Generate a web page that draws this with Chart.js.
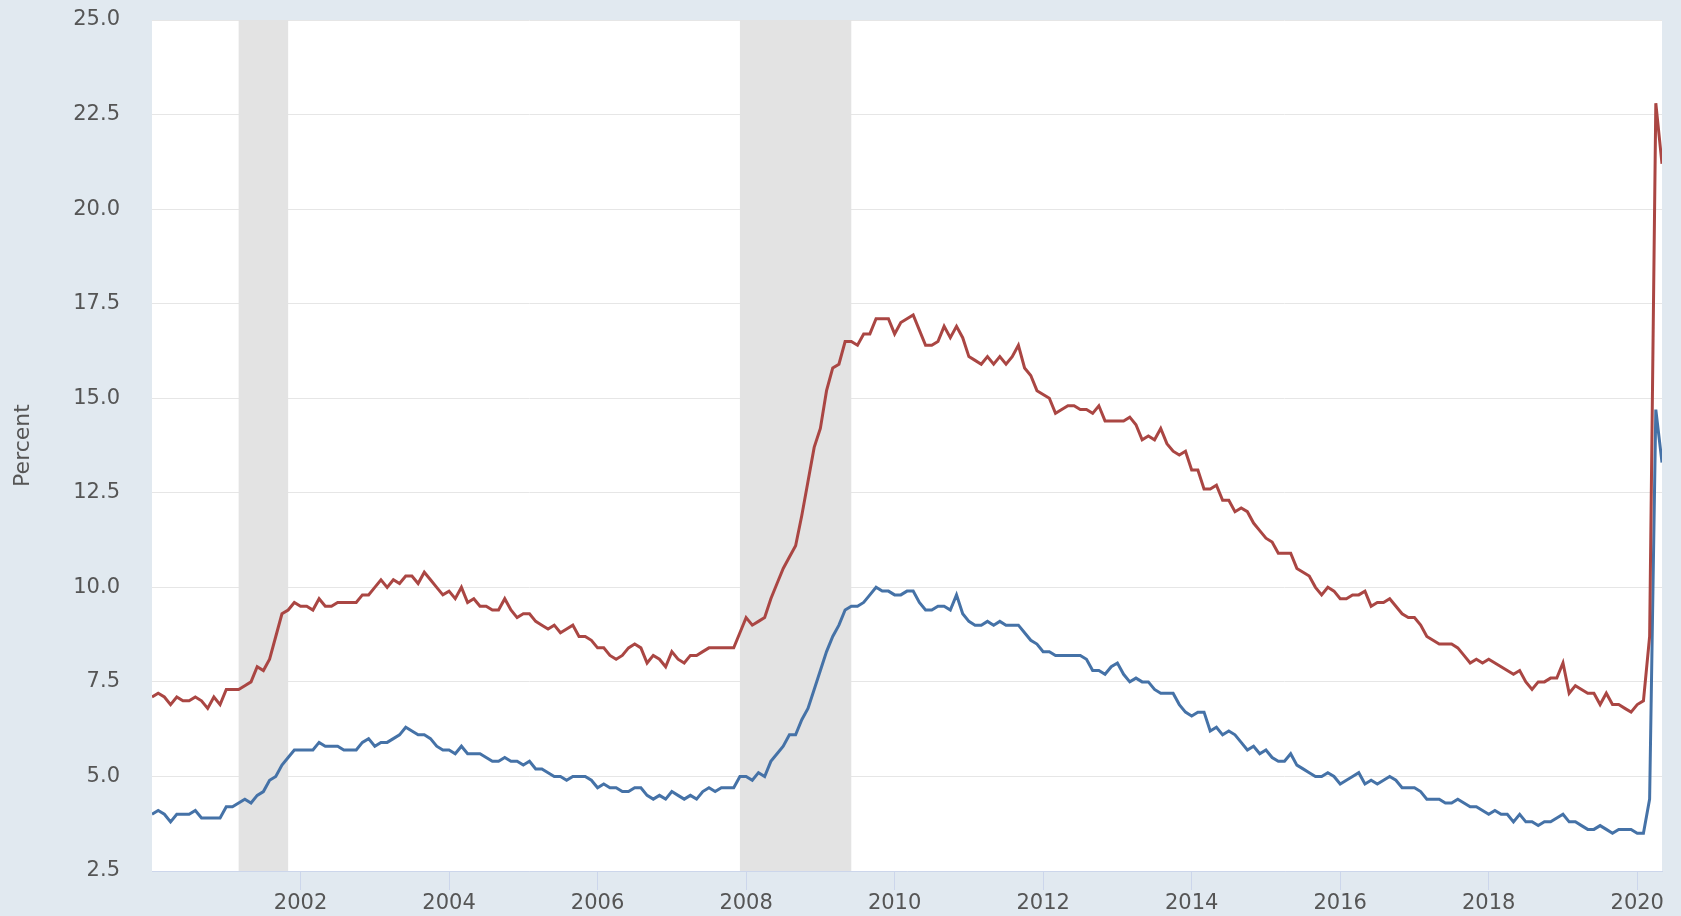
<!DOCTYPE html>
<html>
<head>
<meta charset="utf-8">
<script src="https://cdn.jsdelivr.net/npm/chart.js@4/dist/chart.umd.min.js"></script>
<style>
  html, body { margin: 0; padding: 0; background: #e1e9f0; }
  canvas { display: block; }
</style>
</head>
<body>
<canvas id="unrateChart" width="1681" height="916"></canvas>
<script>
// monthly, Jan 2000 - May 2020
const startYear = 2000;
const u3 = [
  4.0, 4.1, 4.0, 3.8, 4.0, 4.0, 4.0, 4.1, 3.9, 3.9, 3.9, 3.9,
  4.2, 4.2, 4.3, 4.4, 4.3, 4.5, 4.6, 4.9, 5.0, 5.3, 5.5, 5.7,
  5.7, 5.7, 5.7, 5.9, 5.8, 5.8, 5.8, 5.7, 5.7, 5.7, 5.9, 6.0,
  5.8, 5.9, 5.9, 6.0, 6.1, 6.3, 6.2, 6.1, 6.1, 6.0, 5.8, 5.7,
  5.7, 5.6, 5.8, 5.6, 5.6, 5.6, 5.5, 5.4, 5.4, 5.5, 5.4, 5.4,
  5.3, 5.4, 5.2, 5.2, 5.1, 5.0, 5.0, 4.9, 5.0, 5.0, 5.0, 4.9,
  4.7, 4.8, 4.7, 4.7, 4.6, 4.6, 4.7, 4.7, 4.5, 4.4, 4.5, 4.4,
  4.6, 4.5, 4.4, 4.5, 4.4, 4.6, 4.7, 4.6, 4.7, 4.7, 4.7, 5.0,
  5.0, 4.9, 5.1, 5.0, 5.4, 5.6, 5.8, 6.1, 6.1, 6.5, 6.8, 7.3,
  7.8, 8.3, 8.7, 9.0, 9.4, 9.5, 9.5, 9.6, 9.8, 10.0, 9.9, 9.9,
  9.8, 9.8, 9.9, 9.9, 9.6, 9.4, 9.4, 9.5, 9.5, 9.4, 9.8, 9.3,
  9.1, 9.0, 9.0, 9.1, 9.0, 9.1, 9.0, 9.0, 9.0, 8.8, 8.6, 8.5,
  8.3, 8.3, 8.2, 8.2, 8.2, 8.2, 8.2, 8.1, 7.8, 7.8, 7.7, 7.9,
  8.0, 7.7, 7.5, 7.6, 7.5, 7.5, 7.3, 7.2, 7.2, 7.2, 6.9, 6.7,
  6.6, 6.7, 6.7, 6.2, 6.3, 6.1, 6.2, 6.1, 5.9, 5.7, 5.8, 5.6,
  5.7, 5.5, 5.4, 5.4, 5.6, 5.3, 5.2, 5.1, 5.0, 5.0, 5.1, 5.0,
  4.8, 4.9, 5.0, 5.1, 4.8, 4.9, 4.8, 4.9, 5.0, 4.9, 4.7, 4.7,
  4.7, 4.6, 4.4, 4.4, 4.4, 4.3, 4.3, 4.4, 4.3, 4.2, 4.2, 4.1,
  4.0, 4.1, 4.0, 4.0, 3.8, 4.0, 3.8, 3.8, 3.7, 3.8, 3.8, 3.9,
  4.0, 3.8, 3.8, 3.7, 3.6, 3.6, 3.7, 3.6, 3.5, 3.6, 3.6, 3.6,
  3.5, 3.5, 4.4, 14.7, 13.3
];
const u6 = [
  7.1, 7.2, 7.1, 6.9, 7.1, 7.0, 7.0, 7.1, 7.0, 6.8, 7.1, 6.9,
  7.3, 7.3, 7.3, 7.4, 7.5, 7.9, 7.8, 8.1, 8.7, 9.3, 9.4, 9.6,
  9.5, 9.5, 9.4, 9.7, 9.5, 9.5, 9.6, 9.6, 9.6, 9.6, 9.8, 9.8,
  10.0, 10.2, 10.0, 10.2, 10.1, 10.3, 10.3, 10.1, 10.4, 10.2, 10.0, 9.8,
  9.9, 9.7, 10.0, 9.6, 9.7, 9.5, 9.5, 9.4, 9.4, 9.7, 9.4, 9.2,
  9.3, 9.3, 9.1, 9.0, 8.9, 9.0, 8.8, 8.9, 9.0, 8.7, 8.7, 8.6,
  8.4, 8.4, 8.2, 8.1, 8.2, 8.4, 8.5, 8.4, 8.0, 8.2, 8.1, 7.9,
  8.3, 8.1, 8.0, 8.2, 8.2, 8.3, 8.4, 8.4, 8.4, 8.4, 8.4, 8.8,
  9.2, 9.0, 9.1, 9.2, 9.7, 10.1, 10.5, 10.8, 11.1, 11.9, 12.8, 13.7,
  14.2, 15.2, 15.8, 15.9, 16.5, 16.5, 16.4, 16.7, 16.7, 17.1, 17.1, 17.1,
  16.7, 17.0, 17.1, 17.2, 16.8, 16.4, 16.4, 16.5, 16.9, 16.6, 16.9, 16.6,
  16.1, 16.0, 15.9, 16.1, 15.9, 16.1, 15.9, 16.1, 16.4, 15.8, 15.6, 15.2,
  15.1, 15.0, 14.6, 14.7, 14.8, 14.8, 14.7, 14.7, 14.6, 14.8, 14.4, 14.4,
  14.4, 14.4, 14.5, 14.3, 13.9, 14.0, 13.9, 14.2, 13.8, 13.6, 13.5, 13.6,
  13.1, 13.1, 12.6, 12.6, 12.7, 12.3, 12.3, 12.0, 12.1, 12.0, 11.7, 11.5,
  11.3, 11.2, 10.9, 10.9, 10.9, 10.5, 10.4, 10.3, 10.0, 9.8, 10.0, 9.9,
  9.7, 9.7, 9.8, 9.8, 9.9, 9.5, 9.6, 9.6, 9.7, 9.5, 9.3, 9.2,
  9.2, 9.0, 8.7, 8.6, 8.5, 8.5, 8.5, 8.4, 8.2, 8.0, 8.1, 8.0,
  8.1, 8.0, 7.9, 7.8, 7.7, 7.8, 7.5, 7.3, 7.5, 7.5, 7.6, 7.6,
  8.0, 7.2, 7.4, 7.3, 7.2, 7.2, 6.9, 7.2, 6.9, 6.9, 6.8, 6.7,
  6.9, 7.0, 8.7, 22.8, 21.2
];
// recession periods as [start month, end month] offsets from Jan 2000
const recessions = [[14, 22], [95, 113]];
const tickYears = [2002, 2004, 2006, 2008, 2010, 2012, 2014, 2016, 2018, 2020];

const toPoints = (arr) => arr.map((v, i) => ({ x: i, y: v }));

const recessionShading = {
  id: "recessionShading",
  beforeDraw(chart) {
    const { ctx, chartArea: a } = chart;
    ctx.save();
    ctx.fillStyle = "#ffffff";
    ctx.fillRect(a.left, a.top, a.right - a.left, a.bottom - a.top);
    ctx.restore();
  },
  beforeDatasetsDraw(chart) {
    const { ctx, chartArea: a, scales } = chart;
    ctx.save();
    ctx.fillStyle = "#e3e3e3";
    recessions.forEach(([s, e]) => {
      const x1 = scales.x.getPixelForValue(s);
      const x2 = scales.x.getPixelForValue(e);
      ctx.fillRect(x1, a.top, x2 - x1, a.bottom - a.top);
    });
    ctx.restore();
  },
};

const tickFont = { family: "'DejaVu Sans', sans-serif", size: 21 };
const titleFont = { family: "'DejaVu Sans', sans-serif", size: 22 };

new Chart(document.getElementById("unrateChart").getContext("2d"), {
  type: "line",
  data: {
    datasets: [
      {
        label: "U-6",
        data: toPoints(u6),
        borderColor: "#aa4643",
        borderWidth: 3,
        pointRadius: 0,
        tension: 0,
      },
      {
        label: "U-3",
        data: toPoints(u3),
        borderColor: "#4572a7",
        borderWidth: 3,
        pointRadius: 0,
        tension: 0,
      },
    ],
  },
  options: {
    responsive: false,
    animation: false,
    layout: { padding: { top: 20, right: 19, left: 0, bottom: 0 } },
    plugins: {
      legend: { display: false },
      tooltip: { enabled: false },
    },
    scales: {
      x: {
        type: "linear",
        min: 0,
        max: u3.length - 1,
        afterBuildTicks: (scale) => {
          scale.ticks = tickYears.map((y) => ({ value: (y - startYear) * 12 }));
        },
        afterFit: (scale) => { scale.height = 45; },
        ticks: {
          font: tickFont,
          color: "#555555",
          padding: 1,
          maxRotation: 0,
          callback: (v) => String(startYear + v / 12),
        },
        grid: {
          drawOnChartArea: false,
          drawTicks: true,
          tickLength: 19,
          color: "#ccd6eb",
        },
        border: { color: "#ccd6eb", width: 1 },
      },
      y: {
        min: 2.5,
        max: 25,
        afterFit: (scale) => { scale.width = 152; },
        ticks: {
          stepSize: 2.5,
          font: tickFont,
          color: "#555555",
          padding: 2,
          callback: (v) => v.toFixed(1),
        },
        grid: {
          color: "#e6e6e6",
          drawTicks: true,
          tickLength: 30,
          tickColor: "rgba(0,0,0,0)",
        },
        border: { display: false },
        title: {
          display: true,
          text: "Percent",
          font: titleFont,
          color: "#555555",
          padding: { top: 10, bottom: 0 },
        },
      },
    },
  },
  plugins: [recessionShading],
});
</script>
</body>
</html>
